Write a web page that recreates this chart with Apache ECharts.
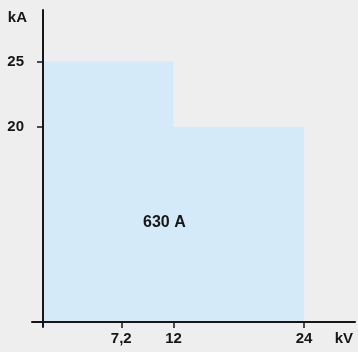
<!DOCTYPE html>
<html lang="en">
<head>
    <meta charset="UTF-8">
    <title>630 A</title>
    <style>
        html, body { margin: 0; padding: 0; background: #eeeeee; }
    </style>
</head>
<body>
    <div id="chart" style="width:358px;height:352px;"></div>
    <script src="https://cdn.jsdelivr.net/npm/echarts@6/dist/echarts.min.js"></script>
    <script type="text/javascript">
        var chart = echarts.init(document.getElementById('chart'));

        // rated voltage (kV) -> short-time current (kA), stepped envelope
        var voltage = [0, 12, 12, 24];
        var current = [25, 25, 20, 20];
        var xTicks = [7.2, 12, 24];
        var yTicks = [20, 25];
        var areaLabel = '630 A';

        var font = "'Liberation Sans', Arial, sans-serif";
        var ink = '#161616';

        var points = voltage.map(function (v, i) { return [v, current[i]]; });

        var option = {
            backgroundColor: '#eeeeee',
            animation: false,
            grid: { left: 32, right: 3, top: 10, bottom: 25, containLabel: false, outerBoundsMode: 'none' },
            xAxis: {
                type: 'value',
                min: -1.01,
                max: 28.69,
                offset: -5,
                z: 5,
                name: 'kV',
                nameLocation: 'end',
                nameGap: 0,
                nameTextStyle: {
                    color: ink, fontFamily: font, fontWeight: 'bold', fontSize: 15,
                    align: 'right', verticalAlign: 'top', padding: [9, 2, 0, 0]
                },
                axisLine: { show: true, onZero: false, lineStyle: { color: ink, width: 2 } },
                axisTick: { show: true, length: 6, customValues: xTicks, lineStyle: { color: ink, width: 1.5 } },
                axisLabel: {
                    customValues: xTicks,
                    margin: 9,
                    color: ink, fontFamily: font, fontWeight: 'bold', fontSize: 15,
                    formatter: function (v) { return String(v).replace('.', ','); }
                },
                splitLine: { show: false }
            },
            yAxis: {
                type: 'value',
                min: 4.73,
                max: 28.93,
                z: 5,
                name: 'kA',
                nameLocation: 'end',
                nameGap: 0,
                nameTextStyle: {
                    color: ink, fontFamily: font, fontWeight: 'bold', fontSize: 15,
                    align: 'right', verticalAlign: 'top', padding: [0, 16, 0, 0]
                },
                axisLine: { show: true, onZero: true, lineStyle: { color: ink, width: 2 } },
                axisTick: { show: true, length: 6, customValues: yTicks, lineStyle: { color: ink, width: 1.5 } },
                axisLabel: {
                    customValues: yTicks,
                    margin: 8,
                    color: ink, fontFamily: font, fontWeight: 'bold', fontSize: 15
                },
                splitLine: { show: false }
            },
            graphic: [{
                type: 'text',
                left: 143,
                top: 215,
                z: 10,
                style: {
                    text: areaLabel,
                    fill: ink,
                    fontFamily: font,
                    fontWeight: 'bold',
                    fontSize: 16
                }
            }],
            series: [{
                type: 'line',
                data: points,
                showSymbol: false,
                lineStyle: { width: 0 },
                areaStyle: { color: '#d4eaf8', opacity: 1, origin: 5.11 },
                z: 1
            }]
        };
        chart.setOption(option);
    </script>
</body>
</html>
